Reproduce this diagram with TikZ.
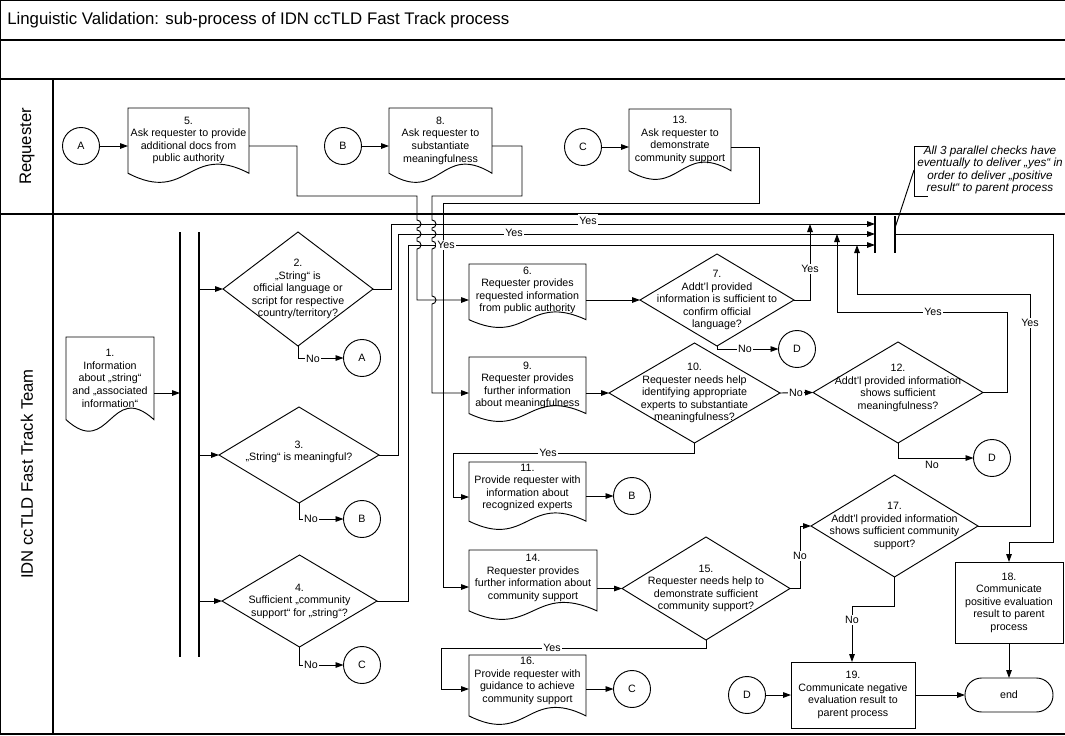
\documentclass[tikz,border=0pt]{standalone}
\usepackage{fontspec}
\setmainfont{Liberation Sans}
\usetikzlibrary{arrows.meta,shapes.geometric,calc}
\newcommand{\pxu}{*0.75pt}
\newcommand{\dgfont}{\fontsize{8}{9.4}\selectfont}
% document shape: name, xleft, ytop, xright, ylowest, text, extra node options
\newcommand{\docnode}[7]{%
  \pgfmathsetmacro\dxm{(#2+#4)/2}%
  \pgfmathsetmacro\dya{#3+0.87*(#5-#3)}%
  \pgfmathsetmacro\dyu{\dya-0.42*(#5-#3)}%
  \pgfmathsetmacro\dyd{\dya+0.42*(#5-#3)}%
  \pgfmathsetmacro\dyc{(#3+\dya)/2}%
  \pgfmathsetmacro\dww{#4-#2}%
  \pgfmathsetmacro\dhh{\dya-#3}%
  \draw[shp] (#2,\dya) -- (#2,#3) -- (#4,#3) -- (#4,\dya) .. controls (\dxm,\dyu) and (\dxm,\dyd) .. (#2,\dya) -- cycle;
  \node[txt, minimum width=\dww\pxu, minimum height=\dhh\pxu] (#1) at (\dxm,\dyc) {};
  \node[txt, #7] at (#1) {#6};
}
\begin{document}
\begin{tikzpicture}[x=0.75pt,y=-0.75pt,
  conn/.style={line width=0.7pt, line join=miter},
  arr/.style={conn, -{Triangle[length=6pt,width=4.2pt]}},
  shp/.style={draw, line width=0.7pt, inner sep=0pt, outer sep=0pt},
  dia/.style={shp, diamond},
  crc/.style={shp, circle, minimum size=37\pxu, font=\dgfont},
  box/.style={shp, rectangle, align=center, font=\dgfont},
  txt/.style={align=center, font=\dgfont, inner sep=0pt, outer sep=0pt},
  lbl/.style={fill=white, inner sep=1.2pt, font=\dgfont},
  barline/.style={line width=1.4pt},
  bar/.style={inner sep=0pt, outer sep=0pt, minimum width=0pt},
  frame/.style={line width=0.8pt},
  lane/.style={rotate=90, font=\fontsize{12.5}{15}\selectfont}
]
\useasboundingbox (0,0) rectangle (1065,736);
\fill[white] (0,0) rectangle (1065,736);

% ---------- pool frame ----------
\draw[frame] (0.5,734) -- (0.5,0.5) -- (1065,0.5);
\draw[frame] (0,40) -- (1065,40);
\draw[frame] (0,79) -- (1065,79);
\draw[frame] (0,214) -- (1065,214);
\draw[frame] (0,734) -- (1065,734);
\draw[frame] (53,79) -- (53,734);
\node[anchor=west, font=\fontsize{12.6}{15}\selectfont, inner sep=0pt] (title) at (7,20) {Linguistic Validation: sub-process of IDN ccTLD Fast Track process};
\node[lane] (lreq) at (27,146.5) {Requester};
\node[lane] (lteam) at (27,474) {IDN ccTLD Fast Track Team};

% ---------- requester lane ----------
\node[crc] (cA1) at (81,146) {A};
\node[crc] (cB1) at (343,146) {B};
\node[crc] (cC1) at (583,147) {C};
\docnode{d5}{128}{108}{249}{183}{5.\\Ask requester to provide\\additional docs from\\public authority}{}
\docnode{d8}{389}{108}{492}{183}{8.\\Ask requester to\\substantiate\\meaningfulness}{}
\docnode{d13}{629}{109}{731}{180}{13.\\Ask requester to\\demonstrate\\community support}{}

% note
\draw[conn] (928,146) -- (914,146) -- (914,196) -- (928,196);
\node[font=\fontsize{8.8}{9.2}\selectfont\itshape, align=center, inner sep=0pt] (note) at (990,170) {All 3 parallel checks have\\eventually to deliver „yes“ in\\order to deliver „positive\\result“ to parent process};
\coordinate (noteL) at (914,170);

% ---------- team lane ----------
\docnode{d1}{66}{337}{154}{432}{1.\\Information\\about „string“\\and „associated\\information“}{}
\node[bar, minimum height=425\pxu] (fork1) at (180,444.5) {};
\node[bar, minimum height=425\pxu] (fork2) at (199,444.5) {};
\draw[barline] (fork1.north) -- (fork1.south);
\draw[barline] (fork2.north) -- (fork2.south);

\node[dia, minimum width=150\pxu, minimum height=114\pxu] (d2) at (298,289) {};
\node[txt] at (d2) {2.\\„String“ is\\official language or\\script for respective\\country/territory?};
\node[dia, minimum width=160\pxu, minimum height=96\pxu] (d3) at (299,455) {};
\node[txt, yshift=2.5pt] at (d3) {3.\\„String“ is meaningful?};
\node[dia, minimum width=155\pxu, minimum height=92\pxu] (d4) at (299.5,601) {};
\node[txt] at (d4) {4.\\Sufficient „community\\support“ for „string“?};

\node[crc] (cA2) at (362,358) {A};
\node[crc] (cB2) at (362,519) {B};
\node[crc] (cC2) at (362,665) {C};

\docnode{d6}{469}{264}{586}{328}{6.\\Requester provides\\requested information\\from public authority}{yshift=1pt}
\docnode{d9}{469}{357}{586}{422}{9.\\Requester provides\\further information\\about meaningfulness}{}
\docnode{d11}{469}{462}{586}{530}{11.\\Provide requester with\\information about\\recognized experts}{yshift=3pt}
\docnode{d14}{469}{550}{597}{620}{14.\\Requester provides\\further information about\\community support}{yshift=2pt}
\docnode{d16}{469}{655}{586}{725}{16.\\Provide requester with\\guidance to achieve\\community support}{yshift=3.5pt}

\node[dia, minimum width=154\pxu, minimum height=92\pxu] (d7) at (717,300) {};
\node[txt] at (d7) {7.\\Addt'l provided\\information is sufficient to\\confirm official\\language?};
\node[dia, minimum width=171\pxu, minimum height=100\pxu] (d10) at (694.5,393) {};
\node[txt] at (d10) {10.\\Requester needs help\\identifying appropriate\\experts to substantiate\\meaningfulness?};
\node[dia, minimum width=170\pxu, minimum height=101\pxu] (d12) at (898,392.5) {};
\node[txt, yshift=3.5pt] at (d12) {12.\\Addt'l provided information\\shows sufficient\\meaningfulness?};
\node[dia, minimum width=168\pxu, minimum height=103\pxu] (d15) at (706,588.5) {};
\node[txt] at (d15) {15.\\Requester needs help to\\demonstrate sufficient\\community support?};
\node[dia, minimum width=167\pxu, minimum height=102\pxu] (d17) at (894.5,526) {};
\node[txt] at (d17) {17.\\Addt'l provided information\\shows sufficient community\\support?};

\node[crc] (cB3) at (632,496) {B};
\node[crc] (cC3) at (632,689) {C};
\node[crc] (cD1) at (797,349) {D};
\node[crc] (cD2) at (992,458) {D};
\node[crc] (cD3) at (747,695) {D};

\node[box, minimum width=108\pxu, minimum height=81\pxu] (b18) at (1009,602.5) {18.\\Communicate\\positive evaluation\\result to parent\\process};
\node[box, minimum width=124\pxu, minimum height=66\pxu] (b19) at (853,695) {19.\\Communicate negative\\evaluation result to\\parent process};
\node[shp, rectangle, rounded corners=12.5pt, minimum width=88\pxu, minimum height=34\pxu, font=\dgfont] (end) at (1009,695) {end};

\node[bar, minimum height=37\pxu] (join1) at (875,234.5) {};
\node[bar, minimum height=37\pxu] (join2) at (895,234.5) {};
\draw[barline] (join1.north) -- (join1.south);
\draw[barline] (join2.north) -- (join2.south);

% ---------- connectors ----------
\draw[arr] (cA1) -- (d5.west |- cA1);
\draw[arr] (cB1) -- (d8.west |- cB1);
\draw[arr] (cC1) -- (d13.west |- cC1);

\draw[arr] (d5.east |- cA1) -- (297,146) -- (297,196) -- (417,196) -- (417,220)
  arc[start angle=90,end angle=-90,radius=3pt] -- (417,230)
  arc[start angle=90,end angle=-90,radius=3pt] -- (417,241)
  arc[start angle=90,end angle=-90,radius=3pt] -- (417,300) -- (d6.west |- 0,300);
\draw[arr] (d8.east |- cB1) -- (522,146) -- (522,196) -- (432,196) -- (432,220)
  arc[start angle=90,end angle=-90,radius=3pt] -- (432,230)
  arc[start angle=90,end angle=-90,radius=3pt] -- (432,241)
  arc[start angle=90,end angle=-90,radius=3pt] -- (432,296)
  arc[start angle=90,end angle=-90,radius=3pt] -- (432,393) -- (d9.west |- 0,393);
\draw[arr] (d13.east |- cC1) -- (759,147) -- (759,203) -- (443,203) -- (443,587) -- (d14.west |- 0,587);

\draw[arr] (d1.east |- 0,393) -- (fork1 |- 0,393);
\draw[arr] (fork2 |- d2.west) -- (d2.west);
\draw[arr] (fork2 |- d3.west) -- (d3.west);
\draw[arr] (fork2 |- d4.west) -- (d4.west);

\draw[arr] (d2.east) -| (391,224) -- (join1 |- 0,224);
\draw[arr] (d3.east) -| (398,234) -- (join1 |- 0,234);
\draw[arr] (d4.east) -| (408,245) -- (join1 |- 0,245);

\draw[arr] (d2.south) |- (cA2.west);
\draw[arr] (d3.south) |- (cB2.west);
\draw[arr] (d4.south) |- (cC2.west);

\draw[arr] (d6.east |- d7.west) -- (d7.west);
\draw[arr] (d9.east |- d10.west) -- (d10.west);
\draw[arr] (d14.east |- d15.west) -- (d15.west);
\draw[arr] (d11.east |- cB3) -- (cB3);
\draw[arr] (d16.east |- cC3) -- (cC3);

\draw[arr] (d7.east) -| (810,224);
\draw[arr] (d7.south) |- (cD1.west);
\draw[arr] (d10.east) -- (d12.west);
\draw[arr] (d10.south) -- (694.5,453) -- (453,453) -- (453,497) -- (d11.west |- 0,497);
\draw[arr] (d12.east) -- (1007,392.5) -- (1007,312) -- (837,312) -- (837,234);
\draw[arr] (d12.south) |- (cD2.west);
\draw[arr] (d15.east) -- (800,588.5) -- (800,526) -- (d17.west);
\draw[arr] (d15.south) -- (706,648) -- (441,648) -- (441,689) -- (d16.west |- 0,689);
\draw[arr] (d17.east) -- (1030,526) -- (1030,294) -- (857,294) -- (857,245);
\draw[arr] (d17.south) -- (894.5,606) -- (852,606) -- (b19.north -| 852,0);

\draw[arr] (join2 |- 0,234) -| (1053,542) -| (b18.north);
\draw[arr] (b18.south) -- (end.north);
\draw[arr] (b19.east) -- (end.west);
\draw[arr] (cD3) -- (b19.west);
\draw[conn] (noteL) -- (join2 |- 0,228);

% ---------- labels ----------
\node[lbl, inner ysep=2.4pt] at (588,221) {Yes};
\node[lbl] at (514,233) {Yes};
\node[lbl] at (446,245) {Yes};
\node[lbl] at (810,269) {Yes};
\node[lbl] at (933,312) {Yes};
\node[lbl] at (1030,323) {Yes};
\node[lbl] at (548,453) {Yes};
\node[lbl] at (552,648) {Yes};
\node[lbl] at (313,359) {No};
\node[lbl] at (311,519) {No};
\node[lbl] at (311,665) {No};
\node[lbl] at (745,349) {No};
\node[lbl] at (796,393) {No};
\node[lbl] at (932,465) {No};
\node[lbl] at (800,556) {No};
\node[lbl] at (852,620) {No};
\end{tikzpicture}
\end{document}
